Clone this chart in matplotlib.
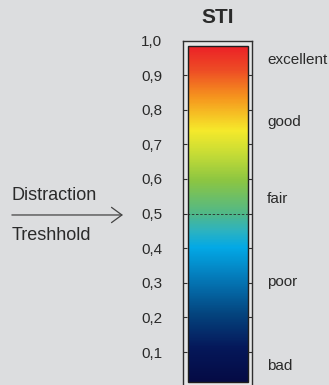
import matplotlib.pyplot as plt
import numpy as np
from matplotlib.colors import LinearSegmentedColormap
from matplotlib.patches import Rectangle

plt.rcParams["font.family"] = ["Liberation Sans", "DejaVu Sans"]

# STI scale
tick_values = [0.1, 0.2, 0.3, 0.4, 0.5, 0.6, 0.7, 0.8, 0.9, 1.0]
tick_labels = ["0,1", "0,2", "0,3", "0,4", "0,5", "0,6", "0,7", "0,8", "0,9", "1,0"]
rating_names = ["excellent", "good", "fair", "poor", "bad"]
rating_pos = [0.945, 0.765, 0.542, 0.302, 0.06]
threshold = 0.5

# gradient stops (value, colour) from bad to excellent
stop_values = [0.0, 0.1, 0.2, 0.3, 0.4, 0.45, 0.5, 0.6, 0.68, 0.75, 0.85, 0.93, 1.0]
stop_colors = ["#050b45", "#06185a", "#04447e", "#0576b5", "#03a9e6", "#2db3c0",
               "#50b88a", "#8cc642", "#c6dc36", "#f6ea2b", "#f6951e", "#ee4d25", "#ec2227"]

bg = "#dcdddf"
ink = "#2a2a2a"

cmap = LinearSegmentedColormap.from_list("sti", list(zip(stop_values, stop_colors)))

fig = plt.figure(figsize=(3.29, 3.85), dpi=100, facecolor=bg)
ax = fig.add_axes([183 / 329, -1.6 / 385, 69 / 329, 346 / 385], facecolor="#e5e6e7")
ax.set_xlim(0, 1)
ax.set_ylim(0, 1)

grad = np.linspace(0, 1, 400).reshape(-1, 1)
ax.imshow(grad, cmap=cmap, origin="lower", aspect="auto",
          extent=[0.077, 0.938, 0.014, 0.984], interpolation="bilinear")
ax.add_patch(Rectangle((0.077, 0.014), 0.861, 0.97, fill=False,
                       ec="#1e1e1e", lw=1.0))
ax.axhline(threshold, color="#2a2a2a", lw=0.6, ls=(0, (3, 2)))

for s in ax.spines.values():
    s.set_color("#2f2f2f")
    s.set_linewidth(1.0)

ax.set_xticks([])
ax.set_yticks(tick_values, tick_labels)
ax.tick_params(axis="y", direction="in", length=3, width=0.8, color="#2f2f2f",
               left=True, right=True, labelsize=11, labelcolor=ink, pad=15)
ax.yaxis.get_major_ticks()[-1].tick1line.set_visible(False)
ax.yaxis.get_major_ticks()[-1].tick2line.set_visible(False)

ax.text(0.5, 1.068, "STI", transform=ax.transAxes, ha="center", va="center",
        fontsize=15, fontweight="bold", color=ink)

ytr = ax.get_yaxis_transform()
for name, y in zip(rating_names, rating_pos):
    ax.text(1.22, y, name, transform=ytr, ha="left", va="center",
            fontsize=11, color=ink, clip_on=False)

ax.text(-2.48, 0.551, "Distraction", transform=ytr, ha="left", va="center",
        fontsize=13, color=ink)
ax.text(-2.48, 0.436, "Treshhold", transform=ytr, ha="left", va="center",
        fontsize=13, color=ink)
ax.annotate("", xy=(-0.87, 0.496), xytext=(-2.48, 0.496), xycoords=ytr,
            textcoords=ytr,
            arrowprops=dict(arrowstyle="->,head_length=0.75,head_width=0.55",
                            mutation_scale=10, color="#444444", lw=0.9,
                            shrinkA=0, shrinkB=0))

fig.savefig("out.png", dpi=100, facecolor=bg)
